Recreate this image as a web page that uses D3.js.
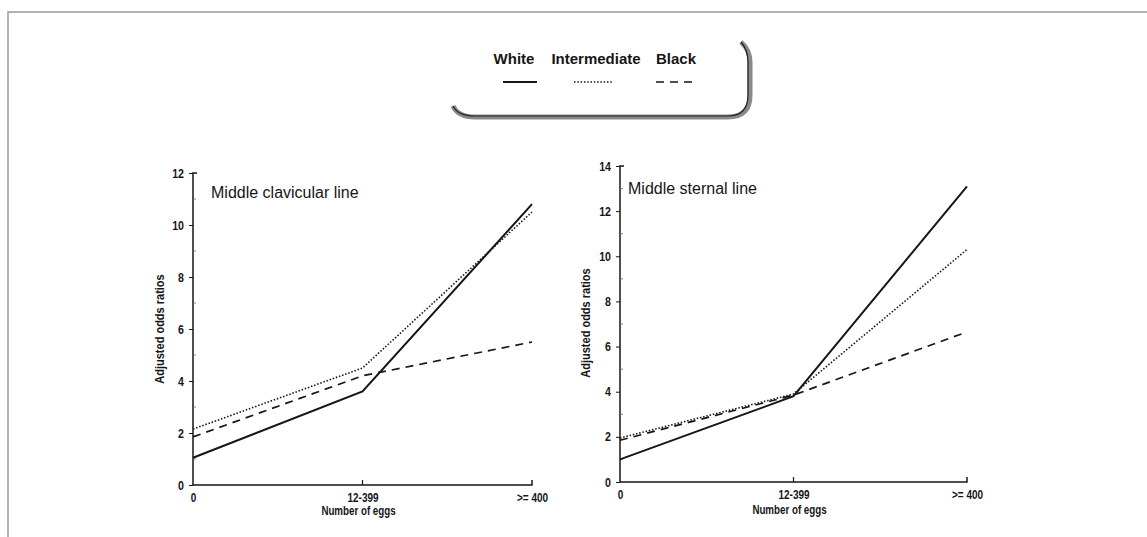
<!DOCTYPE html>
<html><head><meta charset="utf-8">
<script src="https://cdn.jsdelivr.net/npm/d3@7"></script>
<style>
html,body{margin:0;padding:0;background:#fff;}
svg{display:block;font-family:"Liberation Sans",Arial,sans-serif;}
</style></head>
<body>
<svg id="chart" width="1147" height="537"></svg>
<script>
const categories = ["0", "12-399", ">= 400"];
const seriesNames = ["White", "Intermediate", "Black"];
// Middle clavicular line
const clavWhite = [1.05, 3.6, 10.8];
const clavIntermediate = [2.15, 4.5, 10.5];
const clavBlack = [1.85, 4.2, 5.5];
// Middle sternal line
const sternWhite = [1.0, 3.8, 13.1];
const sternIntermediate = [1.95, 3.9, 10.3];
const sternBlack = [1.85, 3.85, 6.65];
const clavTicks = [0, 2, 4, 6, 8, 10, 12];
const sternTicks = [0, 2, 4, 6, 8, 10, 12, 14];

const styles = {
  White: {dash: null, width: 2},
  Intermediate: {dash: "1.5,1.8", width: 1.6},
  Black: {dash: "8,6", width: 1.7}
};

const svg = d3.select("#chart");
const ink = "#161616";
const sans = "'Liberation Sans',Arial,sans-serif";

// condense text horizontally to mimic the narrow face of the original
function condense(sel, k) {
  sel.each(function () {
    const w = this.getComputedTextLength();
    if (w > 0) d3.select(this).attr("textLength", w * k).attr("lengthAdjust", "spacingAndGlyphs");
  });
}

// outer border (top and left)
svg.append("path").attr("d", "M8,537 L8,12 L1147,12")
  .attr("fill", "none").attr("stroke", "#9a9a9a").attr("stroke-width", 1.5);

// legend box
const lg = svg.append("g");
lg.append("path")
  .attr("d", "M453,106 Q458,117 475,117 L728,117 Q750,117 750,95 L750,62 Q750,50 741,42")
  .attr("fill", "none").attr("stroke", "#8a8a8a").attr("stroke-width", 5);
lg.append("path")
  .attr("d", "M453,106 Q458,116 475,116 L728,116 Q748,116 748,95 L748,62 Q748,50 741,42")
  .attr("fill", "none").attr("stroke", "#222").attr("stroke-width", 1.2);
const legX = [514, 596, 676];
const legLine = [[503, 537], [574, 612], [656, 696]];
seriesNames.forEach((n, i) => {
  lg.append("text").attr("x", legX[i]).attr("y", 64).attr("text-anchor", "middle")
    .attr("font-size", 15).attr("font-weight", "bold").attr("fill", ink).text(n);
  lg.append("line").attr("x1", legLine[i][0]).attr("x2", legLine[i][1])
    .attr("y1", 82).attr("y2", 82).attr("stroke", ink)
    .attr("stroke-width", styles[n].width).attr("stroke-dasharray", styles[n].dash);
});

function panel(opt) {
  const g = svg.append("g");
  const x = d3.scalePoint().domain(categories).range([opt.x0, opt.x1]);
  const y = d3.scaleLinear().domain([0, opt.ymax]).range([opt.y0, opt.y1]);

  // y axis
  const ya = g.append("g").attr("transform", `translate(${opt.x0},0)`)
    .call(d3.axisLeft(y).tickValues(opt.ticks).tickSize(4).tickPadding(5).tickFormat(d3.format("d")));
  ya.select(".domain").attr("stroke", ink).attr("stroke-width", 1.5).attr("d", `M0,${opt.y0}V${opt.y1}h4`);
  ya.selectAll(".tick line").attr("stroke", ink);
  ya.selectAll(".tick text").attr("font-size", 12.5).attr("font-weight", "bold")
    .attr("fill", ink).attr("font-family", sans).call(condense, 0.85);
  // minor ticks
  const minor = d3.range(1, opt.ymax, 2);
  g.selectAll(".minor").data(minor).join("line")
    .attr("x1", opt.x0).attr("x2", opt.x0 + 3)
    .attr("y1", d => y(d)).attr("y2", d => y(d))
    .attr("stroke", "#666").attr("stroke-width", 0.8);

  // x axis
  const xa = g.append("g").attr("transform", `translate(0,${opt.y0})`)
    .call(d3.axisBottom(x).tickSize(0).tickPadding(8));
  xa.select(".domain").attr("stroke", ink).attr("stroke-width", 1.5)
    .attr("d", `M${opt.x0},0H${opt.x1}v-5`);
  xa.selectAll(".tick text").attr("font-size", 12.5).attr("font-weight", "bold")
    .attr("fill", ink).attr("font-family", sans).call(condense, 0.8);
  g.append("line").attr("x1", x(categories[1])).attr("x2", x(categories[1]))
    .attr("y1", opt.y0).attr("y2", opt.y0 - 5).attr("stroke", ink).attr("stroke-width", 1.2);

  // lines
  const line = d3.line().x((d, i) => x(categories[i])).y(d => y(d));
  opt.series.forEach((vals, i) => {
    const n = seriesNames[i];
    g.append("path").datum(vals).attr("d", line).attr("fill", "none")
      .attr("stroke", ink).attr("stroke-width", styles[n].width)
      .attr("stroke-dasharray", styles[n].dash);
  });

  // labels
  g.append("text").attr("x", opt.titleX).attr("y", opt.titleY).attr("font-size", 16)
    .attr("fill", ink).text(opt.title);
  g.append("text").attr("x", (opt.x0 + opt.x1) / 2 - 4).attr("y", opt.y0 + opt.xlabDy)
    .attr("text-anchor", "middle").attr("font-size", 12.5).attr("font-weight", "bold")
    .attr("font-family", sans).attr("fill", ink).text("Number of eggs").call(condense, 0.78);
  g.append("text").attr("transform", `translate(${opt.ylabX},${opt.ylabY}) rotate(-90)`)
    .attr("text-anchor", "middle").attr("font-size", 12.5).attr("font-weight", "bold")
    .attr("font-family", sans).attr("fill", ink).text("Adjusted odds ratios").call(condense, 0.88);
}

panel({x0: 193, x1: 532, y0: 485, y1: 173, ymax: 12, ticks: clavTicks,
  series: [clavWhite, clavIntermediate, clavBlack], xlabDy: 30,
  title: "Middle clavicular line", titleX: 211, titleY: 198, ylabX: 164, ylabY: 329});
panel({x0: 620, x1: 967, y0: 482, y1: 166, ymax: 14, ticks: sternTicks,
  series: [sternWhite, sternIntermediate, sternBlack], xlabDy: 32,
  title: "Middle sternal line", titleX: 628, titleY: 194, ylabX: 590, ylabY: 323});
</script>
</body></html>
